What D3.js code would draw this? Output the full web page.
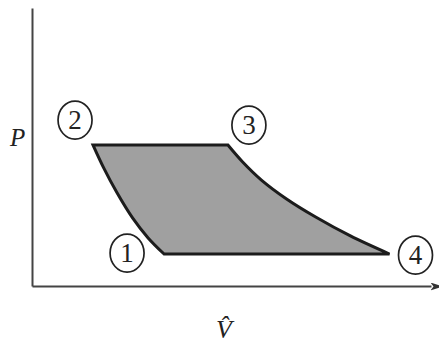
<!DOCTYPE html>
<html>
<head>
<meta charset="utf-8">
<script src="https://cdn.jsdelivr.net/npm/d3@7"></script>
<style>
  body { margin: 0; background: #fff; }
  svg { display: block; }
  .num { font-family: "Liberation Serif", "DejaVu Serif", serif; font-size: 27px; fill: #222; }
  .lab { font-family: "Liberation Serif", "DejaVu Serif", serif; font-style: italic; fill: #222; }
</style>
</head>
<body>
<div id="chart"></div>
<script>
// state points of the cycle (V, P) in arbitrary units
let stateIds = ["1", "2", "3", "4"]
let stateV = [33.1, 15.3, 49.1, 89.6]
let stateP = [11.5, 50.7, 50.7, 11.5]

// curved legs
let leg21V = [15.3, 18.0, 21.2, 25.2, 29.1, 33.1]
let leg21P = [50.7, 42.4, 33.8, 24.5, 17.3, 11.5]
let leg34V = [49.1, 52.8, 57.5, 63.8, 71.1, 79.8, 89.6]
let leg34P = [50.7, 44.6, 38.1, 31.3, 24.8, 18.0, 11.5]

let width = 439
let height = 344

let svg = d3.select("#chart").append("svg")
    .attr("width", width)
    .attr("height", height)

let x = d3.scaleLinear().domain([0, 100]).range([32, 431])
let y = d3.scaleLinear().domain([0, 100]).range([286, 8])

svg.append("defs").append("marker")
    .attr("id", "arrow")
    .attr("viewBox", "0 0 12 8")
    .attr("refX", 1)
    .attr("refY", 4)
    .attr("markerWidth", 12)
    .attr("markerHeight", 8)
    .attr("markerUnits", "userSpaceOnUse")
    .attr("orient", "auto")
    .append("path")
    .attr("d", "M0,0 L12,4 L0,8 L3,4 Z")
    .attr("fill", "#333")

// axes without ticks
let xAxis = svg.append("g")
    .attr("transform", `translate(0, ${y(0)})`)
    .call(d3.axisBottom(x).tickValues([]).tickSizeOuter(0))
xAxis.select(".domain")
    .attr("stroke", "#444")
    .attr("stroke-width", 2)
    .attr("marker-end", "url(#arrow)")

let yAxis = svg.append("g")
    .attr("transform", `translate(${x(0)}, 0)`)
    .call(d3.axisLeft(y).tickValues([]).tickSizeOuter(0))
yAxis.select(".domain")
    .attr("stroke", "#444")
    .attr("stroke-width", 2)

// cycle area
let curveLine = d3.line()
    .x(function(d){ return x(d[0]) })
    .y(function(d){ return y(d[1]) })
    .curve(d3.curveCatmullRom.alpha(0.5))

let right = d3.zip(leg34V, leg34P)
let left = d3.zip(leg21V, leg21P).reverse()

let d = curveLine(right) + "L" + curveLine(left).slice(1) + "Z"

svg.append("path")
    .attr("d", d)
    .attr("fill", "#a0a0a0")
    .attr("stroke", "#1c1c1c")
    .attr("stroke-width", 3)
    .attr("stroke-linejoin", "miter")

// circled state labels
let offsets = { "1": [-37, -1], "2": [-18, -25], "3": [21, -20], "4": [26, 1] }

let labels = svg.selectAll("g.state")
    .data(stateIds)
    .enter()
    .append("g")
    .attr("class", "state")
    .attr("transform", function(id, i){
        return `translate(${x(stateV[i]) + offsets[id][0]}, ${y(stateP[i]) + offsets[id][1]})`
    })

labels.append("ellipse")
    .attr("rx", 17)
    .attr("ry", 19)
    .attr("fill", "none")
    .attr("stroke", "#222")
    .attr("stroke-width", 1.7)

labels.append("text")
    .attr("class", "num")
    .attr("text-anchor", "middle")
    .attr("dy", 9)
    .text(function(id){ return id })

// axis titles
svg.append("text")
    .attr("class", "lab")
    .attr("x", 10)
    .attr("y", 146)
    .attr("font-size", 25)
    .text("P")

svg.append("text")
    .attr("class", "lab")
    .attr("x", 224)
    .attr("y", 338)
    .attr("text-anchor", "middle")
    .attr("font-size", 26)
    .text("V\u0302")
</script>
</body>
</html>
